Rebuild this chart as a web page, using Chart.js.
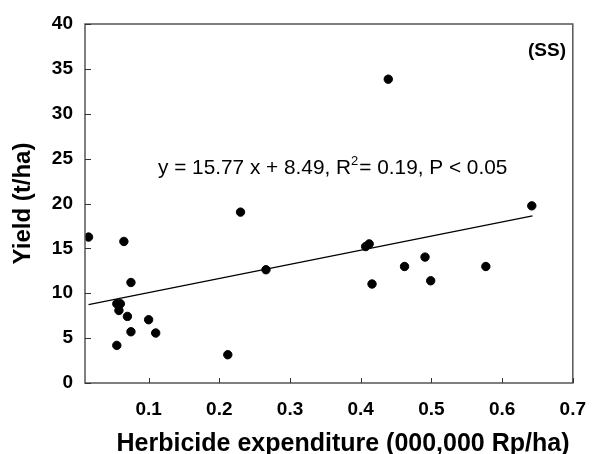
<!DOCTYPE html>
<html>
<head>
<meta charset="utf-8">
<script src="https://cdn.jsdelivr.net/npm/chart.js@4/dist/chart.umd.min.js"></script>
<style>
  html, body { margin: 0; padding: 0; background: #fff; }
  #wrap { width: 601px; height: 454px; }
</style>
</head>
<body>
<div id="wrap"><canvas id="yieldChart" width="601" height="454"></canvas></div>
<script>
// Herbicide expenditure (000,000 Rp/ha) vs yield (t/ha), site SS
const expenditure = [0.015, 0.065, 0.075, 0.055, 0.060, 0.058, 0.070, 0.100, 0.075, 0.110, 0.055,
                     0.230, 0.266, 0.212, 0.439, 0.407, 0.412, 0.416, 0.462, 0.491, 0.499, 0.642, 0.577];
const yieldValues = [16.26, 15.77, 11.2, 8.83, 8.83, 8.08, 7.42, 7.05, 5.71, 5.57, 4.19,
                     19.04, 12.62, 3.15, 33.85, 15.2, 15.5, 11.03, 12.98, 14.03, 11.39, 19.74, 12.98];

// fitted line end points (as drawn)
const fitX = [0.015, 0.643];
const fitY = [8.73, 18.63];

const xTicks = [0.1, 0.2, 0.3, 0.4, 0.5, 0.6, 0.7];
const yTicks = [0, 5, 10, 15, 20, 25, 30, 35, 40];

const xTitle = 'Herbicide expenditure (000,000 Rp/ha)';
const equationText = 'y = 15.77 x + 8.49, R';
const equationTail = '= 0.19, P < 0.05';
const siteLabel = '(SS)';

const FONT = '"Liberation Sans", Arial, sans-serif';

// frame, inward ticks and the text annotations
const framePlugin = {
    id: 'frame',
    afterDraw(chart) {
        const ctx = chart.ctx;
        const a = chart.chartArea;
        const xs = chart.scales.x, ys = chart.scales.y;
        ctx.save();
        ctx.strokeStyle = '#555';
        ctx.lineWidth = 1.5;
        ctx.strokeRect(a.left, a.top, a.right - a.left, a.bottom - a.top);

        ctx.strokeStyle = '#333';
        ctx.lineWidth = 1;
        xs.ticks.forEach(t => {
            const px = Math.round(xs.getPixelForValue(t.value)) + 0.5;
            ctx.beginPath();
            ctx.moveTo(px, a.bottom);
            ctx.lineTo(px, a.bottom - 5);
            ctx.stroke();
        });
        ys.ticks.forEach(t => {
            const py = Math.round(ys.getPixelForValue(t.value)) + 0.5;
            ctx.beginPath();
            ctx.moveTo(a.left, py);
            ctx.lineTo(a.left + 6, py);
            ctx.stroke();
        });

        ctx.fillStyle = '#000';
        ctx.textBaseline = 'alphabetic';

        // x axis title (sits a little right of the plot centre)
        ctx.textAlign = 'center';
        ctx.font = 'bold 25px ' + FONT;
        ctx.fillText(xTitle, 343, 451);

        // regression equation
        ctx.textAlign = 'left';
        ctx.font = '20.8px ' + FONT;
        let x = 158, y = 174;
        ctx.fillText(equationText, x, y);
        x += ctx.measureText(equationText).width;
        ctx.font = '13px ' + FONT;
        ctx.fillText('2', x, y - 9);
        x += ctx.measureText('2').width + 1;
        ctx.font = '20.8px ' + FONT;
        ctx.fillText(equationTail, x, y);

        ctx.font = 'bold 19px ' + FONT;
        ctx.textAlign = 'center';
        ctx.textBaseline = 'middle';
        ctx.fillText(siteLabel, 547, 51);
        ctx.restore();
    }
};

new Chart(document.getElementById('yieldChart'), {
    type: 'scatter',
    data: {
        datasets: [
            {
                label: 'Yield',
                data: expenditure.map((v, i) => ({x: v, y: yieldValues[i]})),
                backgroundColor: '#000',
                borderColor: '#000',
                pointRadius: 4.2,
                pointHoverRadius: 4.2
            },
            {
                label: 'Fit',
                type: 'line',
                data: fitX.map((v, i) => ({x: v, y: fitY[i]})),
                borderColor: '#000',
                borderWidth: 1.2,
                pointRadius: 0,
                fill: false
            }
        ]
    },
    options: {
        responsive: false,
        animation: false,
        layout: { padding: { top: 24, right: 16, left: 0, bottom: 0 } },
        plugins: {
            legend: { display: false },
            tooltip: { enabled: false }
        },
        scales: {
            x: {
                type: 'linear',
                min: 0.01,
                max: 0.7,
                afterBuildTicks: s => { s.ticks = xTicks.map(v => ({value: v})); },
                afterFit: s => { s.height = 71; },
                grid: { display: false, drawTicks: false },
                border: { display: false },
                ticks: {
                    color: '#000',
                    padding: 15,
                    font: { family: FONT, size: 19, weight: 'bold' },
                    callback: v => v.toFixed(1)
                }
            },
            y: {
                min: 0,
                max: 40,
                afterBuildTicks: s => { s.ticks = yTicks.map(v => ({value: v})); },
                afterFit: s => { s.width = 85; },
                grid: { display: false, drawTicks: false },
                border: { display: false },
                ticks: {
                    color: '#000',
                    padding: 12,
                    font: { family: FONT, size: 19, weight: 'bold' }
                },
                title: {
                    display: true,
                    text: 'Yield (t/ha)',
                    color: '#000',
                    font: { family: FONT, size: 24, weight: 'bold' },
                    padding: { top: 9, bottom: 0 }
                }
            }
        }
    },
    plugins: [framePlugin]
});
</script>
</body>
</html>
